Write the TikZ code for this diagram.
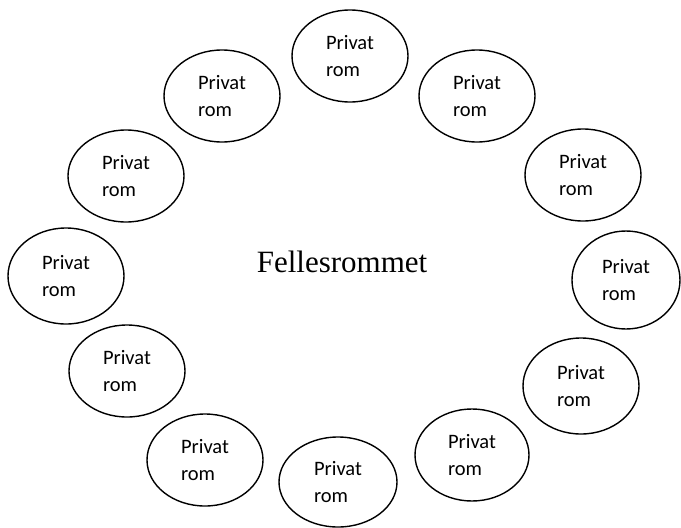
\documentclass[tikz,border=0pt]{standalone}
\usepackage{fontspec}
\setmainfont{Carlito}
\newfontfamily\serifx{Liberation Serif}
\usetikzlibrary{shapes.geometric}
\tikzset{
  room/.style={draw, ellipse, line width=1.4pt, inner sep=0pt,
    minimum width=116pt, minimum height=92pt, align=left,
    font=\fontsize{20.5}{27}\selectfont},
}
\begin{document}
\begin{tikzpicture}[x=1pt,y=-1pt]
\useasboundingbox (0,0) rectangle (681,528);
\node[room] (r1) at (350,56) {Privat\\rom};
\node[room] (r2) at (222,96) {Privat\\rom};
\node[room] (r3) at (477,96) {Privat\\rom};
\node[room] (r4) at (126,176) {Privat\\rom};
\node[room] (r5) at (583,175) {Privat\\rom};
\node[room, minimum width=116pt, minimum height=96pt] (r6) at (66,276) {Privat\\rom};
\node[room, minimum width=108pt, minimum height=98pt] (r7) at (626,280) {Privat\\rom};
\node[room] (r8) at (127,371) {Privat\\rom};
\node[room, minimum height=96pt] (r9) at (581,386) {Privat\\rom};
\node[room] (r10) at (205,460) {Privat\\rom};
\node[room, minimum width=118pt, minimum height=90pt] (r11) at (338,482) {Privat\\rom};
\node[room, minimum width=114pt] (r12) at (472,455) {Privat\\rom};
\node[anchor=base, inner sep=0pt, font=\serifx\fontsize{31}{36}\selectfont] (f) at (342,272) {Fellesrommet};
\end{tikzpicture}
\end{document}
